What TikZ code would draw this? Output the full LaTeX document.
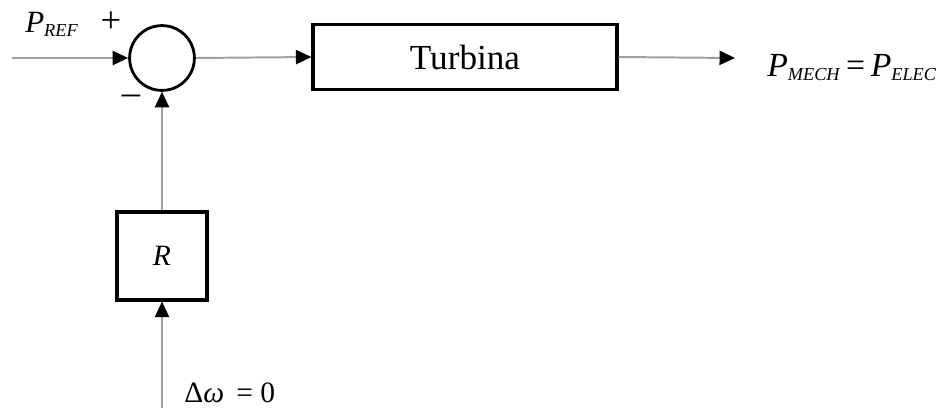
\documentclass[tikz,border=0pt]{standalone}
\usepackage{fontspec}
\setmainfont{Liberation Serif}
\usetikzlibrary{arrows.meta}
\tikzset{
  block/.style={draw=black, line width=2.2pt, fill=white, inner sep=0pt},
  sumnode/.style={draw=black, circle, line width=2pt, minimum size=1.62cm, inner sep=0pt},
  sig/.style={draw=gray!75, line width=1.4pt, -{Triangle[length=11pt,width=10pt,black]}},
  lab/.style={font=\fontsize{22}{24}\selectfont, inner sep=0pt}
}
\begin{document}
\begin{tikzpicture}[x=0.025cm, y=-0.025cm]
\useasboundingbox (0,0) rectangle (942,408);
\node[sumnode] (sum) at (162,58) {};
\node[block, minimum width=7.6cm, minimum height=1.62cm, font=\fontsize{25}{28}\selectfont] (turb) at (465,57) {Turbina};
\node[block, minimum width=2.25cm, minimum height=2.2cm, font=\fontsize{21}{24}\selectfont] (r) at (162,256) {\textit{R}};
\coordinate (in) at (12,58);
\coordinate (out) at (735,58);
\coordinate (dw) at (162,408);
% lazo principal
\draw[sig] (in) -- (sum.west);
\draw[sig] (sum.east) -- (turb.west);
\draw[sig] (turb.east) -- (out);
% realimentacion
\draw[sig] (dw) -- (r.south);
\draw[sig] (r.north) -- (sum.south);
% etiquetas
\node[lab, anchor=base west] (pref) at (25,32) {\textit{P}\raisebox{-0.3ex}{\fontsize{13}{14}\selectfont\textit{REF}}};
\node[lab, font=\fontsize{26}{28}\selectfont] (plus) at (111,22) {+};
\node[lab, font=\fontsize{26}{28}\selectfont] (minus) at (131,100) {\textendash};
\node[lab, anchor=base west, font=\fontsize{24}{26}\selectfont] (pout) at (767,76) {\textit{P}\raisebox{-0.3ex}{\fontsize{13}{14}\selectfont\textit{MECH}}\,=\,\textit{P}\raisebox{-0.3ex}{\fontsize{13}{14}\selectfont\textit{ELEC}}};
\node[lab, anchor=base west, font=\fontsize{21}{24}\selectfont] (dwl) at (184,402) {Δ\textit{ω} \,= 0};
\end{tikzpicture}
\end{document}
